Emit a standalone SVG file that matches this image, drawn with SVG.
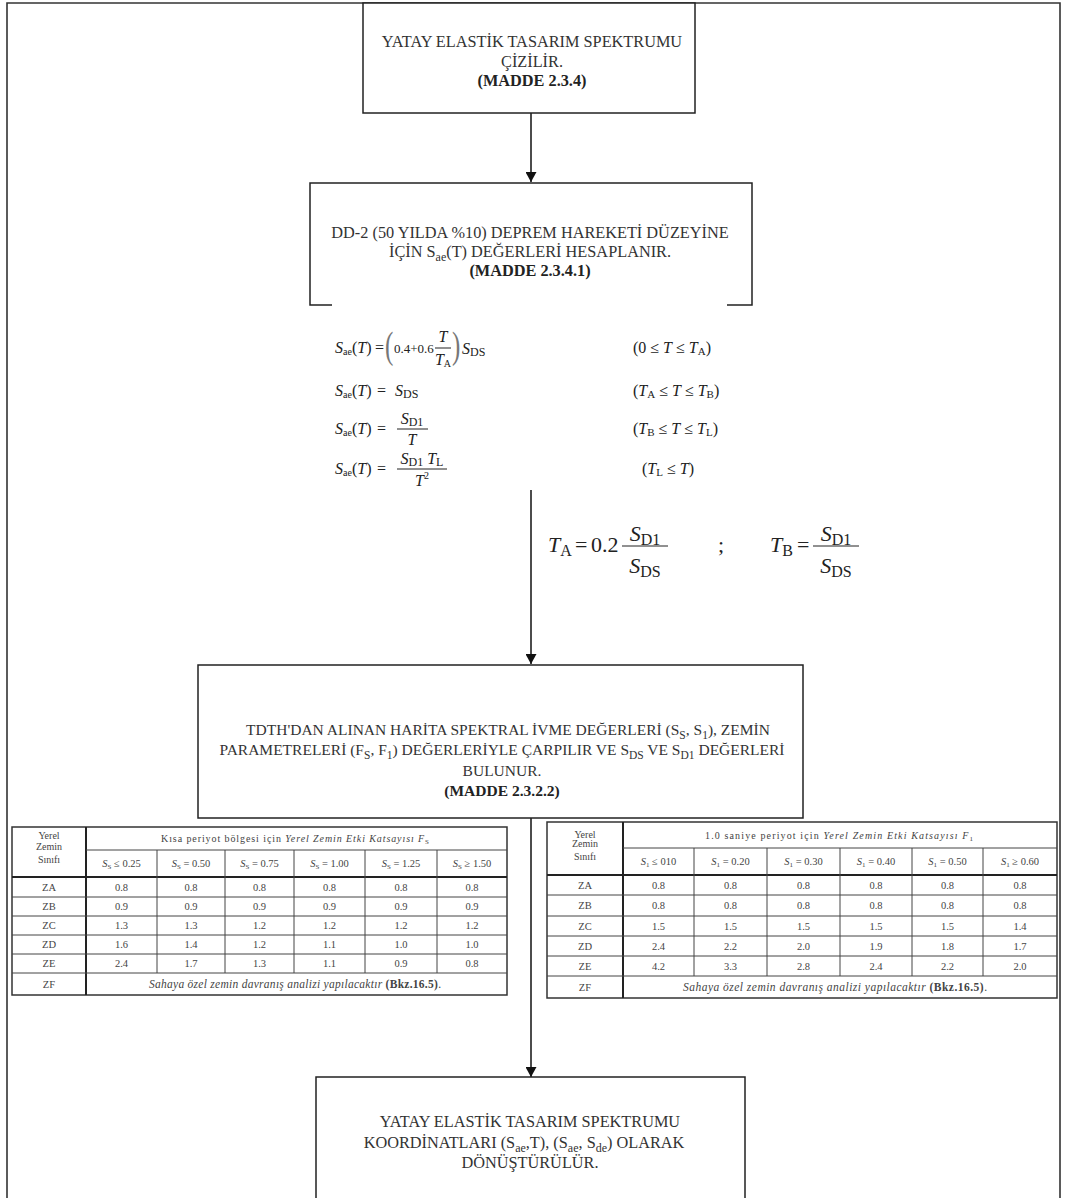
<svg xmlns="http://www.w3.org/2000/svg" width="1065" height="1198" viewBox="0 0 1065 1198">
<defs>
<style>
.frame{fill:none;stroke:#333;stroke-width:1.6}
.box{fill:#fff;stroke:#222;stroke-width:1.5}
.open{fill:none;stroke:#222;stroke-width:1.5}
.t{font-family:"Liberation Serif","Times New Roman",serif;font-size:16.3px;fill:#333;text-anchor:middle}
.t3{font-family:"Liberation Serif","Times New Roman",serif;font-size:15.5px;fill:#333;text-anchor:middle}
.bd{font-weight:bold;fill:#222}
.f{font-family:"Liberation Serif","Times New Roman",serif;font-size:16px;fill:#222}
.fs{font-family:"Liberation Serif","Times New Roman",serif;font-size:13px;fill:#222}
.fc{font-family:"Liberation Serif","Times New Roman",serif;font-size:16px;fill:#222;text-anchor:middle}
.big{font-family:"Liberation Serif","Times New Roman",serif;font-size:22px;fill:#222}
.bigc{font-family:"Liberation Serif","Times New Roman",serif;font-size:22px;fill:#222;text-anchor:middle}
.par{font-family:"Liberation Serif","Times New Roman",serif;font-size:25px;fill:#777}
.i{font-style:italic}
.bar{stroke:#222;stroke-width:1}
.conn{stroke:#111;stroke-width:1.5;fill:none}
.tb{font-family:"Liberation Serif","Times New Roman",serif;font-size:10.5px;fill:#444;text-anchor:middle}
.th{font-family:"Liberation Serif","Times New Roman",serif;font-size:10px;fill:#444;text-anchor:middle}
.tl{stroke:#444;stroke-width:1;fill:none}
.tk{stroke:#222;stroke-width:2;fill:none}
.to{stroke:#333;stroke-width:1.5;fill:none}
</style>
<marker id="ah" viewBox="0 0 10 11" refX="10" refY="5.5" markerWidth="10" markerHeight="11" markerUnits="userSpaceOnUse" orient="auto">
<path d="M0,0 L10,5.5 L0,11 z" fill="#111"/>
</marker>
</defs>
<rect width="1065" height="1198" fill="#fff"/>
<path class="frame" d="M7,1198 L7,3 L1060,3 L1060,1198"/>

<g id="connectors">
<line class="conn" x1="531" y1="113" x2="531" y2="182" marker-end="url(#ah)"/>
<line class="conn" x1="531" y1="490" x2="531" y2="664" marker-end="url(#ah)"/>
<line class="conn" x1="531" y1="818" x2="531" y2="1077" marker-end="url(#ah)"/>
</g>

<g id="node-spectrum">
<rect class="box" x="363" y="3" width="332" height="110"/>
<text class="t" x="532" y="47">YATAY ELASTİK TASARIM SPEKTRUMU</text>
<text class="t" x="532" y="67">ÇİZİLİR.</text>
<text class="t bd" x="532" y="86">(MADDE 2.3.4)</text>
</g>

<g id="node-sae">
<path class="open" d="M332,305 L310,305 L310,183 L752,183 L752,305 L727,305"/>
<text class="t" x="530" y="238">DD-2 (50 YILDA %10) DEPREM HAREKETİ DÜZEYİNE</text>
<text class="t" x="530" y="257">İÇİN S<tspan font-size="12" dy="4">ae</tspan><tspan dy="-4">(T) DEĞERLERİ HESAPLANIR.</tspan></text>
<text class="t bd" x="530" y="276">(MADDE 2.3.4.1)</text>
</g>

<g id="formulas">
<!-- row 1 -->
<text class="f" x="335" y="353"><tspan class="i">S</tspan><tspan font-size="10" dy="2">ae</tspan><tspan dy="-2">(</tspan><tspan class="i">T</tspan>)</text>
<text class="f" x="375" y="353">=</text>
<text class="par" transform="translate(385,358) scale(1,1.55)">(</text>
<text class="fs" x="394" y="353">0.4+0.6</text>
<text class="fc" x="443" y="342"><tspan class="i">T</tspan></text>
<line class="bar" x1="435" y1="348" x2="451" y2="348"/>
<text class="fc" x="443" y="365"><tspan class="i">T</tspan><tspan font-size="10" dy="2">A</tspan></text>
<text class="par" transform="translate(452,358) scale(1,1.55)">)</text>
<text class="f" x="462" y="354"><tspan class="i">S</tspan><tspan font-size="12" dy="2">DS</tspan></text>
<text class="f" x="633" y="353">(0 ≤ <tspan class="i">T</tspan> ≤ <tspan class="i">T</tspan><tspan font-size="11" dy="2">A</tspan><tspan dy="-2">)</tspan></text>
<!-- row 2 -->
<text class="f" x="335" y="396"><tspan class="i">S</tspan><tspan font-size="10" dy="2">ae</tspan><tspan dy="-2">(</tspan><tspan class="i">T</tspan>)</text>
<text class="f" x="377" y="396">=</text>
<text class="f" x="395" y="396"><tspan class="i">S</tspan><tspan font-size="12" dy="2">DS</tspan></text>
<text class="f" x="633" y="396">(<tspan class="i">T</tspan><tspan font-size="11" dy="2">A</tspan><tspan dy="-2"> ≤ </tspan><tspan class="i">T</tspan> ≤ <tspan class="i">T</tspan><tspan font-size="11" dy="2">B</tspan><tspan dy="-2">)</tspan></text>
<!-- row 3 -->
<text class="f" x="335" y="434"><tspan class="i">S</tspan><tspan font-size="10" dy="2">ae</tspan><tspan dy="-2">(</tspan><tspan class="i">T</tspan>)</text>
<text class="f" x="377" y="434">=</text>
<text class="fc" x="412" y="424"><tspan class="i">S</tspan><tspan font-size="12" dy="2">D1</tspan></text>
<line class="bar" x1="397" y1="429" x2="428" y2="429"/>
<text class="fc" x="412" y="445"><tspan class="i">T</tspan></text>
<text class="f" x="633" y="434">(<tspan class="i">T</tspan><tspan font-size="11" dy="2">B</tspan><tspan dy="-2"> ≤ </tspan><tspan class="i">T</tspan> ≤ <tspan class="i">T</tspan><tspan font-size="11" dy="2">L</tspan><tspan dy="-2">)</tspan></text>
<!-- row 4 -->
<text class="f" x="335" y="474"><tspan class="i">S</tspan><tspan font-size="10" dy="2">ae</tspan><tspan dy="-2">(</tspan><tspan class="i">T</tspan>)</text>
<text class="f" x="377" y="474">=</text>
<text class="fc" x="422" y="464"><tspan class="i">S</tspan><tspan font-size="12" dy="2">D1</tspan><tspan dy="-2"> </tspan><tspan class="i">T</tspan><tspan font-size="12" dy="2">L</tspan></text>
<line class="bar" x1="397" y1="469" x2="447" y2="469"/>
<text class="fc" x="422" y="486"><tspan class="i">T</tspan><tspan font-size="10" dy="-7">2</tspan></text>
<text class="f" x="642" y="474">(<tspan class="i">T</tspan><tspan font-size="11" dy="2">L</tspan><tspan dy="-2"> ≤ </tspan><tspan class="i">T</tspan>)</text>
</g>

<g id="formula-ta-tb">
<text class="big" x="548" y="552"><tspan class="i">T</tspan><tspan font-size="16" dy="4">A</tspan></text>
<text class="big" x="575" y="552">=</text>
<text class="big" x="591" y="552">0.2</text>
<text class="bigc" x="645" y="541"><tspan class="i">S</tspan><tspan font-size="16" dy="4">D1</tspan></text>
<line class="bar" x1="622" y1="546" x2="668" y2="546"/>
<text class="bigc" x="645" y="573"><tspan class="i">S</tspan><tspan font-size="16" dy="4">DS</tspan></text>
<text class="big" x="718" y="552">;</text>
<text class="big" x="770" y="552"><tspan class="i">T</tspan><tspan font-size="16" dy="4">B</tspan></text>
<text class="big" x="797" y="552">=</text>
<text class="bigc" x="836" y="541"><tspan class="i">S</tspan><tspan font-size="16" dy="4">D1</tspan></text>
<line class="bar" x1="813" y1="546" x2="859" y2="546"/>
<text class="bigc" x="836" y="573"><tspan class="i">S</tspan><tspan font-size="16" dy="4">DS</tspan></text>
</g>

<g id="node-sds">
<rect class="box" x="198" y="665" width="605" height="153"/>
<text class="t3" x="508" y="735">TDTH'DAN ALINAN HARİTA SPEKTRAL İVME DEĞERLERİ (S<tspan font-size="11.5" dy="4">S</tspan><tspan dy="-4">, S</tspan><tspan font-size="11.5" dy="4">1</tspan><tspan dy="-4">), ZEMİN</tspan></text>
<text class="t3" x="502" y="755">PARAMETRELERİ (F<tspan font-size="11.5" dy="4">S</tspan><tspan dy="-4">, F</tspan><tspan font-size="11.5" dy="4">1</tspan><tspan dy="-4">) DEĞERLERİYLE ÇARPILIR VE S</tspan><tspan font-size="11.5" dy="4">DS</tspan><tspan dy="-4"> VE S</tspan><tspan font-size="11.5" dy="4">D1</tspan><tspan dy="-4"> DEĞERLERİ</tspan></text>
<text class="t3" x="502" y="776">BULUNUR.</text>
<text class="t3 bd" x="502" y="796">(MADDE 2.3.2.2)</text>
</g>

<g id="table-fs">
<rect class="to" x="12" y="827" width="495" height="168"/>
<line class="tk" x1="86" y1="827" x2="86" y2="995"/>
<line class="tl" x1="86" y1="850" x2="507" y2="850"/>
<line class="tk" x1="12" y1="877" x2="507" y2="877"/>
<path class="tl" d="M12,897 H507 M12,916 H507 M12,935 H507 M12,954 H507 M12,973 H507"/>
<path class="tl" d="M157,850 V973 M225,850 V973 M294,850 V973 M365,850 V973 M437,850 V973"/>
<text class="th" x="49" y="839">Yerel</text>
<text class="th" x="49" y="850">Zemin</text>
<text class="th" x="49" y="863">Sınıfı</text>
<text class="th" x="295" y="842" textLength="268" lengthAdjust="spacing">Kısa periyot bölgesi için <tspan font-style="italic">Yerel Zemin Etki Katsayısı  F</tspan><tspan font-size="7" dy="2">S</tspan></text>
<g class="tb">
<text x="121.5" y="867"><tspan font-style="italic">S</tspan><tspan font-size="7" dy="2">S</tspan><tspan dy="-2"> ≤ 0.25</tspan></text>
<text x="191" y="867"><tspan font-style="italic">S</tspan><tspan font-size="7" dy="2">S</tspan><tspan dy="-2"> = 0.50</tspan></text>
<text x="259.5" y="867"><tspan font-style="italic">S</tspan><tspan font-size="7" dy="2">S</tspan><tspan dy="-2"> = 0.75</tspan></text>
<text x="329.5" y="867"><tspan font-style="italic">S</tspan><tspan font-size="7" dy="2">S</tspan><tspan dy="-2"> = 1.00</tspan></text>
<text x="401" y="867"><tspan font-style="italic">S</tspan><tspan font-size="7" dy="2">S</tspan><tspan dy="-2"> = 1.25</tspan></text>
<text x="472" y="867"><tspan font-style="italic">S</tspan><tspan font-size="7" dy="2">S</tspan><tspan dy="-2"> ≥ 1.50</tspan></text>
</g>
<g class="tb">
<text x="49" y="891">ZA</text><text x="121.5" y="891">0.8</text><text x="191" y="891">0.8</text><text x="259.5" y="891">0.8</text><text x="329.5" y="891">0.8</text><text x="401" y="891">0.8</text><text x="472" y="891">0.8</text>
<text x="49" y="910">ZB</text><text x="121.5" y="910">0.9</text><text x="191" y="910">0.9</text><text x="259.5" y="910">0.9</text><text x="329.5" y="910">0.9</text><text x="401" y="910">0.9</text><text x="472" y="910">0.9</text>
<text x="49" y="929">ZC</text><text x="121.5" y="929">1.3</text><text x="191" y="929">1.3</text><text x="259.5" y="929">1.2</text><text x="329.5" y="929">1.2</text><text x="401" y="929">1.2</text><text x="472" y="929">1.2</text>
<text x="49" y="948">ZD</text><text x="121.5" y="948">1.6</text><text x="191" y="948">1.4</text><text x="259.5" y="948">1.2</text><text x="329.5" y="948">1.1</text><text x="401" y="948">1.0</text><text x="472" y="948">1.0</text>
<text x="49" y="967">ZE</text><text x="121.5" y="967">2.4</text><text x="191" y="967">1.7</text><text x="259.5" y="967">1.3</text><text x="329.5" y="967">1.1</text><text x="401" y="967">0.9</text><text x="472" y="967">0.8</text>
<text x="49" y="988">ZF</text>
<text x="295" y="988" font-size="11.5" textLength="292" lengthAdjust="spacing"><tspan font-style="italic">Sahaya özel zemin davranış analizi yapılacaktır </tspan><tspan font-weight="bold">(Bkz.16.5)</tspan>.</text>
</g>
</g>

<g id="table-f1">
<rect class="to" x="547" y="822" width="510" height="176"/>
<line class="tk" x1="623" y1="822" x2="623" y2="998"/>
<line class="tl" x1="623" y1="848" x2="1057" y2="848"/>
<line class="tk" x1="547" y1="875" x2="1057" y2="875"/>
<path class="tl" d="M547,895 H1057 M547,916 H1057 M547,936 H1057 M547,956 H1057 M547,976 H1057"/>
<path class="tl" d="M694,848 V976 M767,848 V976 M840,848 V976 M912,848 V976 M983,848 V976"/>
<text class="th" x="585" y="838">Yerel</text>
<text class="th" x="585" y="847">Zemin</text>
<text class="th" x="585" y="860">Sınıfı</text>
<text class="th" x="839" y="839" textLength="268" lengthAdjust="spacing">1.0 saniye periyot için <tspan font-style="italic">Yerel Zemin Etki Katsayısı  F</tspan><tspan font-size="7" dy="2">1</tspan></text>
<g class="tb">
<text x="658.5" y="865"><tspan font-style="italic">S</tspan><tspan font-size="7" dy="2">1</tspan><tspan dy="-2"> ≤ 010</tspan></text>
<text x="730.5" y="865"><tspan font-style="italic">S</tspan><tspan font-size="7" dy="2">1</tspan><tspan dy="-2"> = 0.20</tspan></text>
<text x="803.5" y="865"><tspan font-style="italic">S</tspan><tspan font-size="7" dy="2">1</tspan><tspan dy="-2"> = 0.30</tspan></text>
<text x="876" y="865"><tspan font-style="italic">S</tspan><tspan font-size="7" dy="2">1</tspan><tspan dy="-2"> = 0.40</tspan></text>
<text x="947.5" y="865"><tspan font-style="italic">S</tspan><tspan font-size="7" dy="2">1</tspan><tspan dy="-2"> = 0.50</tspan></text>
<text x="1020" y="865"><tspan font-style="italic">S</tspan><tspan font-size="7" dy="2">1</tspan><tspan dy="-2"> ≥ 0.60</tspan></text>
</g>
<g class="tb">
<text x="585" y="889">ZA</text><text x="658.5" y="889">0.8</text><text x="730.5" y="889">0.8</text><text x="803.5" y="889">0.8</text><text x="876" y="889">0.8</text><text x="947.5" y="889">0.8</text><text x="1020" y="889">0.8</text>
<text x="585" y="909">ZB</text><text x="658.5" y="909">0.8</text><text x="730.5" y="909">0.8</text><text x="803.5" y="909">0.8</text><text x="876" y="909">0.8</text><text x="947.5" y="909">0.8</text><text x="1020" y="909">0.8</text>
<text x="585" y="930">ZC</text><text x="658.5" y="930">1.5</text><text x="730.5" y="930">1.5</text><text x="803.5" y="930">1.5</text><text x="876" y="930">1.5</text><text x="947.5" y="930">1.5</text><text x="1020" y="930">1.4</text>
<text x="585" y="950">ZD</text><text x="658.5" y="950">2.4</text><text x="730.5" y="950">2.2</text><text x="803.5" y="950">2.0</text><text x="876" y="950">1.9</text><text x="947.5" y="950">1.8</text><text x="1020" y="950">1.7</text>
<text x="585" y="970">ZE</text><text x="658.5" y="970">4.2</text><text x="730.5" y="970">3.3</text><text x="803.5" y="970">2.8</text><text x="876" y="970">2.4</text><text x="947.5" y="970">2.2</text><text x="1020" y="970">2.0</text>
<text x="585" y="991">ZF</text>
<text x="835" y="991" font-size="11.5" textLength="304" lengthAdjust="spacing"><tspan font-style="italic">Sahaya özel zemin davranış analizi yapılacaktır </tspan><tspan font-weight="bold">(Bkz.16.5)</tspan>.</text>
</g>
</g>

<g id="node-coordinates">
<path class="open" d="M316,1198 L316,1077 L745,1077 L745,1198"/>
<text class="t" x="530" y="1127">YATAY ELASTİK TASARIM SPEKTRUMU</text>
<text class="t" x="524" y="1148">KOORDİNATLARI (S<tspan font-size="12" dy="4">ae</tspan><tspan dy="-4">,T),  (S</tspan><tspan font-size="12" dy="4">ae</tspan><tspan dy="-4">, S</tspan><tspan font-size="12" dy="4">de</tspan><tspan dy="-4">) OLARAK</tspan></text>
<text class="t" x="530" y="1168">DÖNÜŞTÜRÜLÜR.</text>
</g>
</svg>
